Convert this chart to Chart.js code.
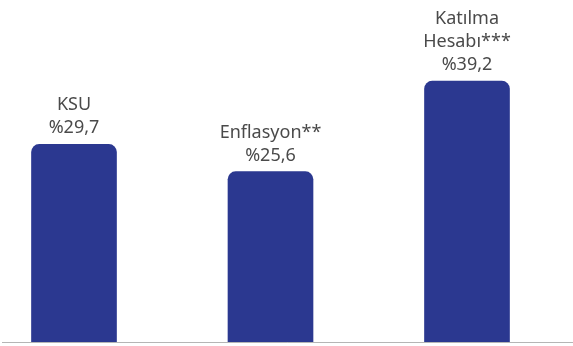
<!DOCTYPE html>
<html>
<head>
<meta charset="utf-8">
<script src="https://cdn.jsdelivr.net/npm/chart.js@4"></script>
<style>
    html, body { margin: 0; padding: 0; background: #fff; }
    #wrap { width: 573px; height: 346px; position: relative; }
</style>
</head>
<body>
<div id="wrap"><canvas id="myChart"></canvas></div>
<script>
// data
const categories = ['KSU', 'Enflasyon**', 'Katılma Hesabı***'];
const labelLines = [['KSU'], ['Enflasyon**'], ['Katılma', 'Hesabı***']];
const values = [29.7, 25.6, 39.2];

const barColor = '#2b3890';
const textColor = '#4a4a4a';

// value labels above each bar
const barLabels = {
    id: 'barLabels',
    afterDatasetsDraw(chart) {
        const ctx = chart.ctx;
        const meta = chart.getDatasetMeta(0);
        ctx.save();
        ctx.font = '18px "Noto Sans"';
        ctx.fillStyle = textColor;
        ctx.textAlign = 'center';
        ctx.textBaseline = 'alphabetic';
        meta.data.forEach((bar, i) => {
            const lines = labelLines[i].concat(['%' + values[i].toFixed(1).replace('.', ',')]);
            let y = bar.y - 11;
            for (let j = lines.length - 1; j >= 0; j--) {
                ctx.fillText(lines[j], bar.x, y);
                y -= 23;
            }
        });
        ctx.restore();
    }
};

// grey baseline across the whole width
const baseLine = {
    id: 'baseLine',
    afterDatasetsDraw(chart) {
        const ctx = chart.ctx;
        const y = Math.round(chart.scales.y.getPixelForValue(0)) + 0.5;
        ctx.save();
        ctx.strokeStyle = '#b5b5b5';
        ctx.lineWidth = 1;
        ctx.beginPath();
        ctx.moveTo(2, y);
        ctx.lineTo(chart.width, y);
        ctx.stroke();
        ctx.restore();
    }
};

var ctx = document.getElementById('myChart').getContext('2d');
var chart = new Chart(ctx, {
    type: 'bar',
    data: {
        labels: categories,
        datasets: [{
            data: values,
            backgroundColor: barColor,
            borderRadius: { topLeft: 8, topRight: 8 },
            borderSkipped: 'bottom',
            barThickness: 85,
            clip: false
        }]
    },
    options: {
        responsive: true,
        maintainAspectRatio: false,
        animation: false,
        layout: { padding: { left: 74, right: 106, top: 0, bottom: 4 } },
        plugins: {
            legend: { display: false },
            tooltip: { enabled: false }
        },
        scales: {
            x: { display: false, offset: false },
            y: { display: false, min: 0, max: 51.4 }
        }
    },
    plugins: [barLabels, baseLine]
});
</script>
</body>
</html>
